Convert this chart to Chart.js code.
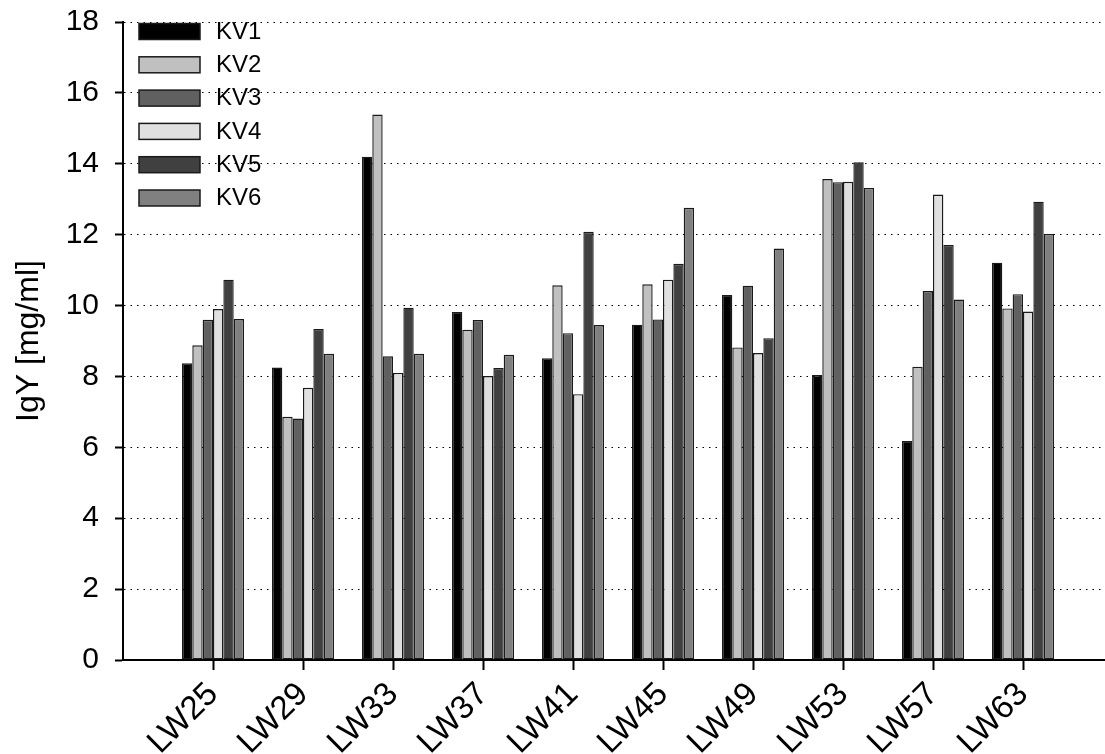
<!DOCTYPE html>
<html>
<head>
<meta charset="utf-8">
<script src="https://cdn.jsdelivr.net/npm/chart.js@4.4.1/dist/chart.umd.min.js"></script>
<style>
  html, body { margin: 0; padding: 0; background: #fff; overflow: hidden; }
  #wrap { position: relative; width: 1113px; height: 754px; }
</style>
</head>
<body>
<div id="wrap"><canvas id="c" width="1113" height="754"></canvas></div>
<script>
// IgY concentration per sampling week (LW) for six groups (KV1..KV6)
const categories = ['LW25', 'LW29', 'LW33', 'LW37', 'LW41', 'LW45', 'LW49', 'LW53', 'LW57', 'LW63'];
const seriesNames = ['KV1', 'KV2', 'KV3', 'KV4', 'KV5', 'KV6'];
const kv1 = [8.37, 8.25, 14.20, 9.82, 8.51, 9.46, 10.30, 8.04, 6.18, 11.21];
const kv2 = [8.88, 6.86, 15.39, 9.32, 10.57, 10.60, 8.82, 13.57, 8.27, 9.92];
const kv3 = [9.60, 6.81, 8.57, 9.59, 9.22, 9.61, 10.56, 13.48, 10.41, 10.32];
const kv4 = [9.90, 7.68, 8.10, 8.01, 7.50, 10.73, 8.66, 13.49, 13.13, 9.83];
const kv5 = [10.73, 9.34, 9.94, 8.24, 12.08, 11.18, 9.08, 14.04, 11.71, 12.93];
const kv6 = [9.62, 8.64, 8.64, 8.61, 9.45, 12.76, 11.61, 13.32, 10.17, 12.02];
const yTickValues = [0, 2, 4, 6, 8, 10, 12, 14, 16, 18];
const fills = ['#000000', '#c0c0c0', '#606060', '#e0e0e0', '#404040', '#808080'];

const FONT = '"Liberation Sans", Arial, Helvetica, sans-serif';
const seriesValues = [kv1, kv2, kv3, kv4, kv5, kv6];

// an empty slot on each side leaves room before the first week and after the last
const labels = ['', ...categories, ''];
const datasets = seriesValues.map((vals, i) => ({
  label: seriesNames[i],
  data: [null, ...vals, null],
  backgroundColor: fills[i],
  borderColor: '#1a1a1a',
  borderWidth: 1.4,
  borderSkipped: false,
  categoryPercentage: 0.69,
  barPercentage: 1.0
}));

// vertical legend inside the plot, top-left
const insideLegend = {
  id: 'insideLegend',
  afterDraw(chart) {
    const { ctx, chartArea } = chart;
    const x0 = chartArea.left + 16;
    const y0 = chartArea.top + 1.5;
    const rowH = 33.3;
    ctx.save();
    ctx.font = '24px ' + FONT;
    ctx.textBaseline = 'middle';
    ctx.textAlign = 'left';
    chart.data.datasets.forEach((ds, i) => {
      const y = y0 + i * rowH;
      ctx.fillStyle = ds.backgroundColor;
      ctx.fillRect(x0, y, 61, 16);
      ctx.lineWidth = 1.5;
      ctx.strokeStyle = '#1a1a1a';
      ctx.strokeRect(x0, y, 61, 16);
      ctx.fillStyle = '#000';
      ctx.fillText(ds.label, x0 + 77, y + 8.5);
    });
    ctx.restore();
  }
};

new Chart(document.getElementById('c'), {
  type: 'bar',
  data: { labels, datasets },
  plugins: [insideLegend],
  options: {
    responsive: false,
    animation: false,
    devicePixelRatio: 1,
    layout: { padding: { top: 22, right: 0, left: 0, bottom: 0 } },
    plugins: {
      legend: { display: false },
      tooltip: { enabled: false }
    },
    scales: {
      x: {
        offset: false,
        grid: {
          display: true,
          offset: false,
          drawOnChartArea: false,
          drawTicks: true,
          tickLength: 10,
          tickWidth: 2,
          tickColor: (c) => (c.index === 0 || c.index === labels.length - 1) ? 'rgba(0,0,0,0)' : '#000'
        },
        border: { display: true, color: '#000', width: 2 },
        ticks: {
          autoSkip: false,
          minRotation: 45,
          maxRotation: 45,
          padding: 5,
          color: '#000',
          font: { family: FONT, size: 33 }
        },
        afterFit(scale) {
          scale.height = 94;
          scale.paddingLeft = 0;
          scale.paddingRight = 0;
        }
      },
      y: {
        min: 0,
        max: 18,
        afterBuildTicks(scale) { scale.ticks = yTickValues.map(v => ({ value: v })); },
        grid: {
          display: true,
          color: (c) => c.tick && c.tick.value === 0 ? 'rgba(0,0,0,0)' : '#000',
          lineWidth: 1,
          drawTicks: true,
          tickLength: 8,
          tickWidth: 2,
          tickColor: '#000',
          tickBorderDash: []
        },
        border: { display: true, color: '#000', width: 2, dash: [1.5, 5] },
        ticks: {
          padding: 16,
          color: '#000',
          font: { family: FONT, size: 30 }
        },
        title: {
          display: true,
          text: 'IgY [mg/ml]',
          color: '#000',
          font: { family: FONT, size: 32 },
          padding: { top: 10, bottom: 0 }
        },
        afterFit(scale) {
          scale.width = 123;
          scale.paddingTop = 0;
          scale.paddingBottom = 0;
        }
      }
    }
  }
});
</script>
</body>
</html>
